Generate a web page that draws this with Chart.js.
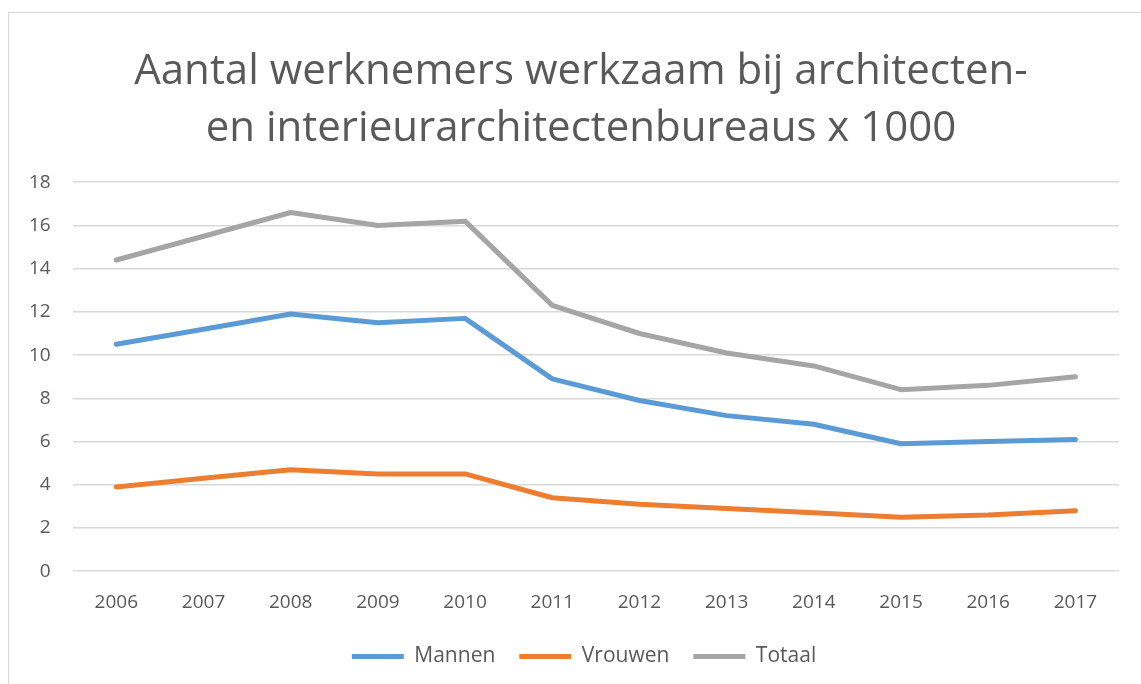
<!DOCTYPE html>
<html>
<head>
  <title>Aantal werknemers architectenbureaus</title>
  <script src="https://cdn.jsdelivr.net/npm/chart.js"></script>
  <style>
    body { margin: 0; background: #fff; }
    #wrap { position: relative; width: 1141px; height: 684px; }
    #frame { position: absolute; left: 8px; top: 12px; width: 1140px; height: 680px; border: 1px solid #d9d9d9; }
  </style>
</head>
<body>
  <div id="wrap">
    <div id="frame"></div>
    <canvas id="chart" width="1141" height="684"></canvas>
  </div>
  <script>
    // data
    const years = ['2006', '2007', '2008', '2009', '2010', '2011', '2012', '2013', '2014', '2015', '2016', '2017'];
    const mannen = [10.5, 11.2, 11.9, 11.5, 11.7, 8.9, 7.9, 7.2, 6.8, 5.9, 6.0, 6.1];
    const vrouwen = [3.9, 4.3, 4.7, 4.5, 4.5, 3.4, 3.1, 2.9, 2.7, 2.5, 2.6, 2.8];
    const totaal = [14.4, 15.5, 16.6, 16.0, 16.2, 12.3, 11.0, 10.1, 9.5, 8.4, 8.6, 9.0];
    const titleLines = ['Aantal werknemers werkzaam bij architecten-', 'en interieurarchitectenbureaus x 1000'];

    const fontFam = '"Open Sans", "Noto Sans", sans-serif';
    const textColor = '#595959';

    function lineSet(label, data, color) {
      return {
        label: label,
        data: data,
        borderColor: color,
        backgroundColor: color,
        borderWidth: 5,
        borderCapStyle: 'round',
        borderJoinStyle: 'round',
        pointRadius: 0,
        pointHoverRadius: 0,
        tension: 0
      };
    }

    // title and legend sit a little right of the canvas centre in the original
    const nudgeBoxes = {
      id: 'nudgeBoxes',
      afterLayout(chart) {
        if (chart.titleBlock) { chart.titleBlock.left += 18; chart.titleBlock.right += 18; }
        if (chart.legend) { chart.legend.left += 21; chart.legend.right += 21; }
      }
    };

    const ctx = document.getElementById('chart').getContext('2d');
    new Chart(ctx, {
      type: 'line',
      data: {
        labels: years,
        datasets: [
          lineSet('Mannen', mannen, '#5b9bd5'),
          lineSet('Vrouwen', vrouwen, '#ed7d31'),
          lineSet('Totaal', totaal, '#a5a5a5')
        ]
      },
      options: {
        responsive: false,
        animation: false,
        layout: { padding: { left: 7, right: 22, top: 0, bottom: 7 } },
        plugins: {
          title: {
            display: true,
            text: titleLines,
            color: textColor,
            font: { family: fontFam, size: 42, weight: 'normal', lineHeight: 1.36 },
            padding: { top: 43, bottom: 25 }
          },
          legend: {
            position: 'bottom',
            labels: {
              usePointStyle: true,
              pointStyle: 'line',
              pointStyleWidth: 52,
              padding: 24,
              color: textColor,
              font: { family: fontFam, size: 21 }
            }
          },
          tooltip: { enabled: false }
        },
        scales: {
          x: {
            offset: true,
            grid: { display: false },
            border: { display: false },
            ticks: { color: textColor, font: { family: fontFam, size: 19 }, padding: 12 },
            afterFit: function (scale) { scale.height -= 4; }
          },
          y: {
            min: 0,
            max: 18,
            ticks: { stepSize: 2, color: textColor, font: { family: fontFam, size: 19 }, padding: 22 },
            grid: { color: '#d9d9d9', lineWidth: 1.5, drawTicks: false },
            border: { display: false }
          }
        }
      },
      plugins: [nudgeBoxes]
    });
  </script>
</body>
</html>
